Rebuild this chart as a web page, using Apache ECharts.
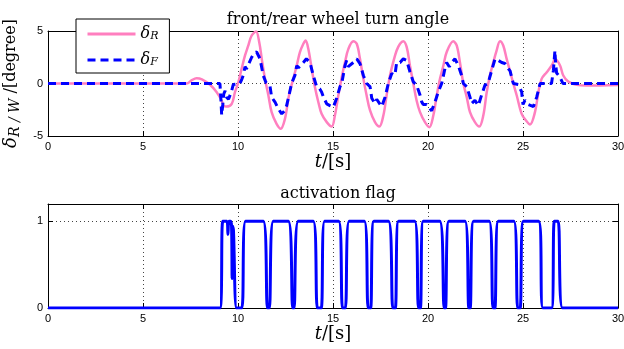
<!DOCTYPE html>
<html>
<head>
<meta charset="utf-8">
<script src="https://cdn.jsdelivr.net/npm/echarts@6/dist/echarts.min.js"></script>
<style>
html,body{margin:0;padding:0;background:#fff;}
#c{width:624px;height:349px;}
</style>
</head>
<body>
<div id="c"></div>
<script>
// ---- data ----
var xTicks = [0, 5, 10, 15, 20, 25, 30];
var angleTicks = [-5, 0, 5];
var flagTicks = [0, 1];

// rear wheel angle delta_R
var rearT = [0, 7.3, 7.55, 7.82, 8.1, 8.53, 8.88, 9.14, 9.23, 9.4, 9.67, 9.84, 10.02, 10.19, 10.37, 10.54, 10.72, 10.95, 11.12, 11.25, 11.42, 11.6, 11.77, 12.03, 12.25, 12.47, 12.65, 12.74, 12.91, 13.09, 13.26, 13.44, 13.56, 13.7, 13.88, 14.05, 14.23, 14.4, 14.67, 14.93, 15.1, 15.28, 15.46, 15.63, 15.81, 16.07, 16.25, 16.42, 16.6, 16.77, 16.95, 17.21, 17.44, 17.65, 17.82, 18.0, 18.17, 18.35, 18.53, 18.7, 18.88, 19.05, 19.23, 19.4, 19.58, 19.84, 20.07, 20.28, 20.46, 20.63, 20.81, 20.98, 21.33, 21.51, 21.68, 21.86, 22.04, 22.21, 22.47, 22.7, 22.91, 23.09, 23.26, 23.44, 23.61, 23.79, 23.96, 24.14, 24.3, 24.49, 24.67, 24.93, 25.15, 25.37, 25.63, 25.81, 25.98, 26.25, 26.51, 26.7, 26.95, 27.12, 27.38, 27.82, 28.35, 30];
var rearV = [0, 0, 0.3, 0.5, 0.4, -0.12, -0.83, -1.62, -2.1, -2.2, -1.94, -0.83, 0.13, 1.4, 2.67, 3.6, 4.57, 4.95, 3.9, 2.35, 0.45, -1.14, -2.73, -3.84, -4.3, -3.37, -1.46, -0.67, 0.44, 1.71, 2.98, 3.78, 4.1, 3.3, 1.4, -0.35, -1.78, -2.89, -3.68, -4.1, -3.05, -1.14, 0.6, 2.03, 3.3, 4.03, 3.78, 2.35, 0.44, -1.14, -2.57, -3.68, -4.1, -3.05, -1.14, 0.76, 2.03, 3.14, 3.78, 4.03, 3.46, 1.71, -0.03, -1.62, -2.73, -3.68, -4.16, -3.05, -1.14, 0.44, 1.71, 2.98, 4.03, 3.62, 2.03, 0, -1.3, -2.73, -3.68, -4.1, -3.05, -0.83, 0.76, 2.03, 3.14, 4.03, 3.62, 2.35, 1.3, 0.0, -1.14, -2.89, -3.5, -3.9, -2.73, -0.83, 0.44, 1.08, 1.71, 2.3, 1.71, 0.76, 0.19, -0.13, -0.2, -0.15];

// front wheel angle delta_F
var frontT = [0, 9.05, 9.1, 9.14, 9.2, 9.25, 9.32, 9.4, 9.5, 9.58, 9.65, 9.75, 9.8, 10.1, 10.2, 10.28, 10.37, 10.45, 10.54, 10.72, 10.85, 10.98, 11.16, 11.33, 11.47, 11.68, 11.77, 11.95, 12.12, 12.3, 12.45, 12.56, 12.7, 12.82, 13.0, 13.09, 13.18, 13.26, 13.44, 13.6, 13.79, 13.96, 14.14, 14.3, 14.4, 14.5, 14.67, 14.84, 15.02, 15.19, 15.37, 15.46, 15.63, 15.72, 15.8, 15.9, 16.07, 16.25, 16.42, 16.6, 16.77, 16.95, 17.04, 17.21, 17.3, 17.39, 17.56, 17.74, 17.91, 18.09, 18.26, 18.35, 18.53, 18.7, 18.88, 19.05, 19.23, 19.4, 19.58, 19.67, 19.75, 19.93, 20.19, 20.37, 20.54, 20.72, 20.89, 20.98, 21.12, 21.25, 21.42, 21.6, 21.77, 21.86, 22.04, 22.21, 22.3, 22.47, 22.65, 22.82, 23.0, 23.16, 23.33, 23.53, 23.7, 23.88, 24.05, 24.23, 24.32, 24.49, 24.75, 24.93, 25.0, 25.1, 25.28, 25.55, 25.72, 25.9, 26.5, 26.55, 26.6, 26.68, 26.72, 26.77, 26.95, 27.1, 30];
var frontV = [0, 0, -1.5, -3.0, -2.0, -1.0, -0.7, -1.3, -1.5, -1.4, -0.8, -0.1, 0, 0, 0.4, 0.8, 1.6, 1.4, 1.5, 2.5, 2.9, 3.0, 2.35, 0.76, 0.1, -0.2, -1.3, -1.78, -2.4, -2.89, -2.6, -2.1, -1.0, 0, 0.8, 1.7, 1.5, 1.4, 2.0, 2.35, 2.0, 0.76, -0.3, -0.5, -0.8, -1.3, -1.94, -2.1, -2.25, -1.4, -0.3, 0, 1.7, 2.2, 1.6, 1.6, 2.0, 2.35, 1.9, 0.76, 0, -0.3, -1.4, -1.9, -1.5, -1.6, -2.2, -1.3, 0, 0.95, 0.8, 2.0, 2.0, 2.35, 2.2, 1.1, 0.15, -0.15, -1.1, -1.75, -2.0, -2.0, -2.6, -1.75, -0.8, 0, 1.4, 2.0, 1.6, 2.0, 2.35, 1.7, 0.76, 0, -0.3, -1.3, -1.9, -1.6, -2.1, -1.1, -0.15, 0, 1.1, 2.35, 2.2, 2.0, 1.9, 1.4, 1.2, 0, -0.1, -0.8, -2.0, -1.6, -2.0, -2.2, -1.3, 0, 0, 0.6, 1.24, 3.14, 1.8, 1.0, 0.6, 0, 0];

// activation flag
var flagT = [0, 9.05, 9.2, 9.42, 9.47, 9.52, 9.6, 9.66, 9.69, 9.71, 9.76, 9.93, 10.2, 10.4, 11.33, 11.55, 11.65, 11.86, 12.65, 12.88, 12.95, 13.17, 13.96, 14.18, 14.38, 14.56, 15.3, 15.5, 15.65, 15.85, 16.65, 16.85, 16.98, 17.15, 17.92, 18.15, 18.28, 18.45, 19.3, 19.5, 19.6, 19.75, 20.62, 20.85, 20.92, 21.1, 21.95, 22.15, 22.22, 22.4, 23.22, 23.42, 23.52, 23.7, 24.52, 24.72, 24.85, 25.02, 25.82, 26.05, 26.5, 26.65, 26.85, 27.08, 30];
var flagV = [0, 0, 1, 1, 0.85, 1, 1, 0.95, 0.34, 0.95, 0.9, 0, 0, 1, 1, 0, 0, 1, 1, 0, 0, 1, 1, 0, 0, 1, 1, 0, 0, 1, 1, 0, 0, 1, 1, 0, 0, 1, 1, 0, 0, 1, 1, 0, 0, 1, 1, 0, 0, 1, 1, 0, 0, 1, 1, 0, 0, 1, 1, 0, 0, 1, 1, 0, 0];

function zip(a, b) { return a.map(function (t, i) { return [t, b[i]]; }); }

var TICK = '#000';
var gridLine = { show: true, lineStyle: { color: '#444', type: [1, 3], width: 1 } };
var lblFont = { fontFamily: 'Liberation Sans', fontSize: 11, color: '#000' };
var serif = 'DejaVu Serif';

function xAx(g, pos, withLabel, name) {
  return {
    type: 'value', gridIndex: g, position: pos, min: 0, max: 30, interval: 5,
    axisLine: { show: true, onZero: false, lineStyle: { color: '#000', width: 1 } },
    axisTick: { show: true, inside: true, length: 5, lineStyle: { color: TICK } },
    axisLabel: Object.assign({ show: withLabel, margin: 5 }, lblFont),
    splitLine: withLabel ? gridLine : { show: false },
    name: name || '', nameLocation: 'middle', nameGap: 17,
    nameTextStyle: {
      rich: {
        i: { fontFamily: serif, fontStyle: 'italic', fontSize: 18, color: '#000' },
        r: { fontFamily: serif, fontSize: 18, color: '#000' }
      }
    }
  };
}
function yAx(g, pos, withLabel, min, max, interval, name) {
  return {
    type: 'value', gridIndex: g, position: pos, min: min, max: max, interval: interval,
    axisLine: { show: true, onZero: false, lineStyle: { color: '#000', width: 1 } },
    axisTick: { show: true, inside: true, length: 5, lineStyle: { color: TICK } },
    axisLabel: Object.assign({ show: withLabel, margin: 5, showMaxLabel: max !== 1.2,
      formatter: function (v) { return (max === 1.2 && v > 1) ? '' : String(v); } }, lblFont),
    splitLine: withLabel ? gridLine : { show: false },
    name: name || '', nameLocation: 'middle', nameGap: 22, nameRotate: 90,
    nameTextStyle: {
      rich: {
        i: { fontFamily: serif, fontStyle: 'italic', fontSize: 18, color: '#000' },
        s: { fontFamily: serif, fontStyle: 'italic', fontSize: 14, color: '#000', verticalAlign: 'bottom', padding: [8, 0, 0, 0] },
        r: { fontFamily: serif, fontSize: 16, color: '#000' }
      }
    }
  };
}

var chart = echarts.init(document.getElementById('c'), null, { renderer: 'canvas' });
chart.setOption({
  animation: false,
  backgroundColor: '#fff',
  title: [
    { text: 'front/rear wheel turn angle', left: 333, top: 7, textAlign: 'center',
      textStyle: { fontFamily: serif, fontWeight: 'normal', fontSize: 16, color: '#000' } },
    { text: 'activation flag', left: 333, top: 181, textAlign: 'center',
      textStyle: { fontFamily: serif, fontWeight: 'normal', fontSize: 16, color: '#000' } }
  ],
  grid: [
    { left: 48, top: 31, width: 570, height: 105, show: false, containLabel: false, outerBoundsMode: 'none' },
    { left: 48, top: 204, width: 570, height: 104, show: false, containLabel: false, outerBoundsMode: 'none' }
  ],
  xAxis: [
    xAx(0, 'bottom', true, '{i|t}{r|/[s]}'),
    xAx(0, 'top', false),
    xAx(1, 'bottom', true, '{i|t}{r|/[s]}'),
    xAx(1, 'top', false)
  ],
  yAxis: [
    yAx(0, 'left', true, -5, 5, 5, '{i|δ}{s|R / W}{r| /[degree]}'),
    yAx(0, 'right', false, -5, 5, 5),
    yAx(1, 'left', true, 0, 1.2, 1),
    yAx(1, 'right', false, 0, 1.2, 1)
  ],
  legend: {
    left: 76, top: 19, orient: 'vertical',
    backgroundColor: '#fff', borderColor: '#000', borderWidth: 1,
    padding: [6, 11, 5, 10], itemWidth: 48, itemHeight: 14, itemGap: 9,
    borderRadius: 0,
    itemStyle: { opacity: 0 },
    textStyle: {
      padding: [0, 0, 0, 0],
      rich: {
        i: { fontFamily: serif, fontStyle: 'italic', fontSize: 16, lineHeight: 16, color: '#000' },
        s: { fontFamily: serif, fontStyle: 'italic', fontSize: 11, lineHeight: 10, color: '#000', verticalAlign: 'bottom', padding: [6, 0, 0, 0] }
      }
    },
    formatter: function (n) { return n === 'dR' ? '{i|δ}{s|R}' : '{i|δ}{s|F}'; },
    data: [
      { name: 'dR', lineStyle: { width: 3 }, itemStyle: { opacity: 0 } },
      { name: 'dF', lineStyle: { width: 3, type: [8, 5] }, itemStyle: { opacity: 0 } }
    ]
  },
  series: [
    { name: 'dR', type: 'line', xAxisIndex: 0, yAxisIndex: 0, data: zip(rearT, rearV),
      smooth: 0.35, symbol: 'none', showSymbol: false,
      lineStyle: { color: '#ff7fbf', width: 2.5 }, itemStyle: { color: '#ff7fbf' } },
    { name: 'dF', type: 'line', xAxisIndex: 0, yAxisIndex: 0, data: zip(frontT, frontV),
      symbol: 'none', showSymbol: false,
      lineStyle: { color: '#0000ff', width: 3, type: [8, 5] }, itemStyle: { color: '#0000ff' } },
    { name: 'flag', type: 'line', xAxisIndex: 2, yAxisIndex: 2, data: zip(flagT, flagV),
      smooth: 0.3, symbol: 'none', showSymbol: false,
      lineStyle: { color: '#0000ff', width: 3 }, itemStyle: { color: '#0000ff' } }
  ]
});
</script>
</body>
</html>
